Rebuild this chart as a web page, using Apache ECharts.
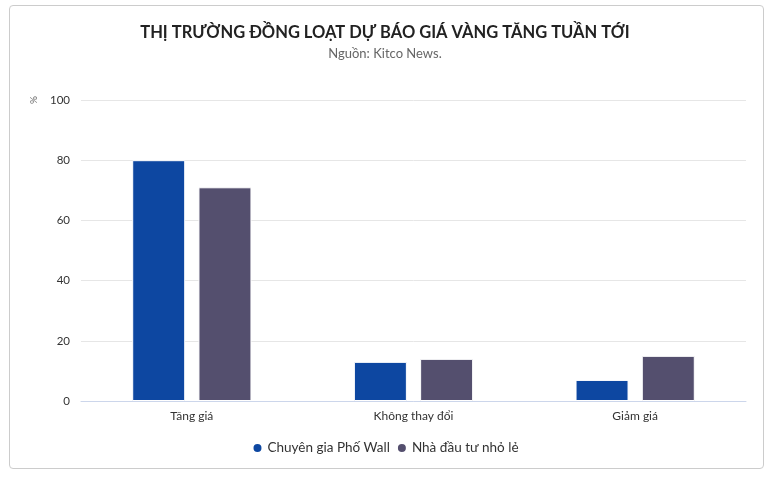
<!DOCTYPE html>
<html><head><meta charset="utf-8">
<script src="https://cdn.jsdelivr.net/npm/echarts@6/dist/echarts.min.js"></script>
<style>
html,body{margin:0;padding:0;background:#fff;}
#frame{position:absolute;left:9px;top:5px;width:755px;height:464px;border:1px solid #ccc;border-radius:4px;box-sizing:border-box;}
#chart{position:absolute;left:0;top:0;width:770px;height:477px;}
</style></head>
<body>
<div id="frame"></div>
<div id="chart"></div>
<script>
var categories = ["Tăng giá", "Không thay đổi", "Giảm giá"];
var wallStreet = [80, 13, 7];
var retail = [71, 14, 15];
var seriesNames = ["Chuyên gia Phố Wall", "Nhà đầu tư nhỏ lẻ"];
var yTicks = [0, 20, 40, 60, 80, 100];
var yUnit = "%";

var font = "Lato, 'Noto Sans', sans-serif";
var chart = echarts.init(document.getElementById('chart'));
chart.setOption({
  animation: false,
  title: [{
    text: "THỊ TRƯỜNG ĐỒNG LOẠT DỰ BÁO GIÁ VÀNG TĂNG TUẦN TỚI",
    left: 'center', top: 19,
    textStyle: {fontFamily: font, fontSize: 16.5, fontWeight: 'bold', color: '#222'}
  }, {
    text: "Nguồn: Kitco News.",
    left: 'center', top: 42,
    textStyle: {fontFamily: font, fontSize: 13, fontWeight: 'normal', color: '#666'}
  }],
  graphic: [{
    type: 'text', x: 33, y: 100, rotation: -Math.PI / 2,
    style: {text: yUnit, fontFamily: font, fontSize: 10, fill: '#666', align: 'center', verticalAlign: 'middle'}
  }],
  legend: {
    bottom: 17, left: 'center',
    icon: 'circle', itemWidth: 10, itemHeight: 10, itemGap: 6,
    textStyle: {fontFamily: font, fontSize: 13.5, color: '#333'},
    data: seriesNames
  },
  grid: {left: 81, right: 24, top: 100, bottom: 76},
  xAxis: {
    type: 'category', data: categories,
    axisTick: {show: false},
    axisLine: {lineStyle: {color: '#ccd6eb'}},
    axisLabel: {fontFamily: font, fontSize: 12, color: '#333', margin: 9}
  },
  yAxis: {
    type: 'value', min: yTicks[0], max: yTicks[yTicks.length - 1], interval: 20,
    axisLabel: {fontFamily: font, fontSize: 11.5, color: '#333', margin: 11},
    splitLine: {lineStyle: {color: '#e6e6e6'}},
    axisLine: {show: false}, axisTick: {show: false}
  },
  series: [{
    name: seriesNames[0], type: 'bar', data: wallStreet,
    barWidth: 53, barGap: '25%',
    itemStyle: {color: '#0d47a1', borderColor: '#fff', borderWidth: 1}
  }, {
    name: seriesNames[1], type: 'bar', data: retail,
    barWidth: 53,
    itemStyle: {color: '#544f6e', borderColor: '#fff', borderWidth: 1}
  }]
});
</script>
</body></html>
